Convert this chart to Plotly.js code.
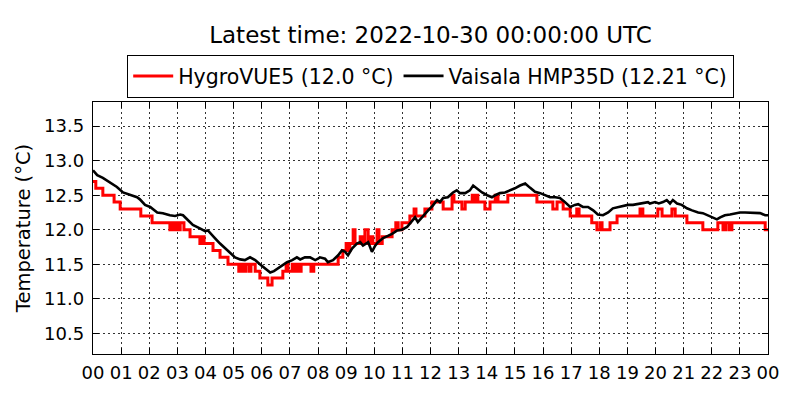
<!DOCTYPE html>
<html>
<head>
<meta charset="utf-8">
<script src="https://cdn.plot.ly/plotly-3.0.1.min.js"></script>
<style>
  body { margin: 0; background: #fff; }
  #plot { width: 800px; height: 400px; }
</style>
</head>
<body>
<div id="plot"></div>
<script>
// Minutes since 2022-10-29 00:00 UTC and temperatures (°C)
var hygro_min = [0, 6, 21, 45, 58, 102, 126, 164, 169, 173, 177, 181, 186, 194, 207, 228, 233, 237, 256, 271,
    288, 311, 316, 322, 326, 333, 337, 346, 356, 373, 382, 405, 412, 416, 425, 429, 435, 439, 444, 465,
    471, 523, 533, 540, 544, 548, 555, 559, 570, 576, 580, 587, 593, 597, 606, 610, 617, 638, 646, 651,
    659, 676, 685, 689, 708, 723, 747, 766, 770, 787, 794, 809, 813, 817, 821, 836, 847, 858, 864, 885,
    947, 981, 990, 1003, 1018, 1032, 1037, 1064, 1075, 1082, 1086, 1103, 1118, 1167, 1173, 1205, 1214, 1235, 1242, 1267,
    1301, 1333, 1344, 1350, 1357, 1363, 1434, 1440];
var hygro_temp = [12.7, 12.6, 12.5, 12.4, 12.3, 12.2, 12.1, 12.0, 12.1, 12.0, 12.1, 12.0, 12.1, 12.0, 11.9, 11.8, 11.9, 11.8, 11.7, 11.6,
    11.5, 11.4, 11.5, 11.4, 11.5, 11.4, 11.5, 11.4, 11.3, 11.2, 11.3, 11.4, 11.5, 11.4, 11.5, 11.4, 11.5, 11.4, 11.5, 11.4,
    11.5, 11.6, 11.7, 11.8, 11.7, 11.8, 12.0, 11.8, 11.9, 11.8, 12.0, 11.8, 11.9, 11.8, 12.0, 11.8, 11.9, 12.0, 12.1, 12.0,
    12.1, 12.2, 12.3, 12.2, 12.3, 12.4, 12.3, 12.5, 12.4, 12.3, 12.4, 12.5, 12.4, 12.5, 12.4, 12.3, 12.4, 12.5, 12.4, 12.5,
    12.4, 12.3, 12.4, 12.3, 12.2, 12.3, 12.2, 12.1, 12.0, 12.1, 12.0, 12.1, 12.2, 12.3, 12.2, 12.3, 12.2, 12.3, 12.2, 12.1,
    12.0, 12.1, 12.0, 12.1, 12.0, 12.1, 12.0, 12.0];

var vaisala_min = [0, 9, 21, 36, 51, 64, 79, 94, 100, 111, 122, 137, 149, 164, 175, 186, 192, 203, 213, 228,
    239, 245, 250, 260, 271, 282, 292, 303, 314, 324, 335, 346, 356, 367, 378, 386, 395, 405, 414, 425,
    435, 442, 452, 463, 474, 480, 484, 495, 501, 512, 523, 531, 538, 544, 553, 563, 570, 576, 587, 595,
    602, 608, 619, 629, 638, 649, 659, 670, 676, 687, 693, 702, 708, 715, 725, 734, 740, 747, 757, 768,
    776, 783, 794, 804, 811, 819, 830, 841, 851, 858, 868, 879, 890, 900, 911, 922, 932, 943, 954, 964,
    975, 986, 996, 1007, 1018, 1028, 1035, 1045, 1056, 1067, 1077, 1088, 1099, 1109, 1120, 1131, 1141, 1152, 1163, 1173,
    1184, 1188, 1199, 1207, 1216, 1224, 1231, 1237, 1246, 1256, 1267, 1278, 1291, 1301, 1312, 1323, 1331, 1338, 1348, 1359,
    1370, 1380, 1391, 1402, 1412, 1423, 1434, 1440];
var vaisala_temp = [12.86, 12.79, 12.75, 12.69, 12.62, 12.54, 12.50, 12.47, 12.44, 12.36, 12.33, 12.25, 12.24, 12.21, 12.20, 12.22, 12.21, 12.14, 12.07, 12.02,
    11.98, 11.99, 11.95, 11.88, 11.80, 11.73, 11.66, 11.60, 11.57, 11.56, 11.60, 11.56, 11.50, 11.44, 11.38, 11.40, 11.44, 11.49, 11.53, 11.56,
    11.60, 11.57, 11.60, 11.60, 11.56, 11.58, 11.60, 11.58, 11.53, 11.56, 11.63, 11.70, 11.68, 11.63, 11.73, 11.80, 11.82, 11.77, 11.82, 11.68,
    11.77, 11.82, 11.88, 11.91, 11.94, 11.99, 12.00, 12.04, 12.09, 12.18, 12.11, 12.18, 12.24, 12.28, 12.35, 12.43, 12.40, 12.46, 12.47, 12.54,
    12.57, 12.53, 12.53, 12.57, 12.64, 12.60, 12.54, 12.50, 12.47, 12.50, 12.53, 12.54, 12.57, 12.60, 12.64, 12.67, 12.61, 12.55, 12.53, 12.50,
    12.47, 12.47, 12.46, 12.40, 12.33, 12.36, 12.37, 12.33, 12.33, 12.28, 12.22, 12.21, 12.25, 12.31, 12.33, 12.34, 12.36, 12.36, 12.37, 12.38,
    12.40, 12.38, 12.40, 12.38, 12.40, 12.43, 12.38, 12.43, 12.38, 12.36, 12.31, 12.28, 12.25, 12.24, 12.21, 12.18, 12.15, 12.18, 12.21, 12.22,
    12.24, 12.25, 12.25, 12.25, 12.25, 12.24, 12.21, 12.21];

var hygro_name = 'HygroVUE5 (12.0 °C)';
var vaisala_name = 'Vaisala HMP35D (12.21 °C)';
var title_text = 'Latest time: 2022-10-30 00:00:00 UTC';

// Đổi số phút thành chuỗi ngày giờ cho trục thời gian
function fn_pad(n) { return (n < 10 ? '0' : '') + n; }
function fn_MinToDate(list) {
    return list.map(function (m) {
        var day = 29 + Math.floor(m / 1440);
        var rest = m % 1440;
        return '2022-10-' + day + ' ' + fn_pad(Math.floor(rest / 60)) + ':' + fn_pad(rest % 60);
    });
}

var font_main = 'DejaVu Sans, sans-serif';

var traces = [{
    x: fn_MinToDate(hygro_min),
    y: hygro_temp,
    type: 'scatter',
    mode: 'lines',
    name: hygro_name,
    line: { color: '#ff0000', width: 3, shape: 'hv' }
}, {
    x: fn_MinToDate(vaisala_min),
    y: vaisala_temp,
    type: 'scatter',
    mode: 'lines',
    name: vaisala_name,
    line: { color: '#000000', width: 2.6 }
}];

var axis_common = {
    showline: true, linecolor: '#000', linewidth: 1.2, mirror: 'ticks',
    ticks: 'inside', ticklen: 6, tickcolor: '#000',
    showgrid: true, gridcolor: '#333', gridwidth: 1, griddash: '1.5px,3.5px',
    zeroline: false,
    tickfont: { family: font_main, size: 18, color: '#000' }
};

var layout = {
    width: 800, height: 400,
    paper_bgcolor: '#fff', plot_bgcolor: '#fff',
    margin: { l: 93, r: 32, t: 102, b: 46 },
    font: { family: font_main, color: '#000' },
    title: {
        text: title_text,
        font: { family: font_main, size: 23, color: '#000' },
        xref: 'paper', x: 0.5, xanchor: 'center', yref: 'container', y: 0.912, yanchor: 'middle'
    },
    showlegend: true,
    legend: {
        orientation: 'h', x: 0.5, xanchor: 'center', y: 1.187, yanchor: 'top',
        bordercolor: '#000', borderwidth: 1.2, bgcolor: '#fff',
        font: { family: font_main, size: 20.5, color: '#000' },
        itemwidth: 40, tracegroupgap: 0
    },
    xaxis: Object.assign({}, axis_common, {
        type: 'date',
        range: ['2022-10-29 00:00', '2022-10-30 00:00'],
        dtick: 3600000, tick0: '2022-10-29 00:00', tickformat: '%H',
        ticklabelstandoff: 2
    }),
    yaxis: Object.assign({}, axis_common, {
        range: [10.2, 13.85],
        dtick: 0.5, tick0: 10.5, tickformat: '.1f',
        ticklabelstandoff: 4,
        title: { text: 'Temperature (°C)', font: { family: font_main, size: 19.5, color: '#000' }, standoff: 8 }
    })
};

Plotly.newPlot('plot', traces, layout, { staticPlot: true });
</script>
</body>
</html>
